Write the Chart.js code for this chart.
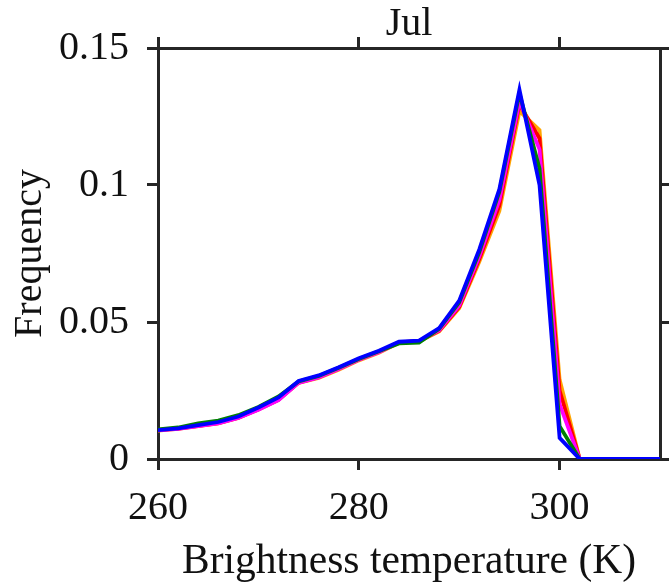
<!DOCTYPE html>
<html lang="en">
<head>
    <meta charset="UTF-8">
    <title>Jul - Brightness temperature</title>
    <script src="https://cdn.jsdelivr.net/npm/chart.js"></script>
    <style>
        body { margin: 0; background: #fff; }
        canvas { display: block; }
    </style>
</head>
<body>
    <canvas id="btChart" width="669" height="584"></canvas>

    <script>
        // Brightness temperature bins (K)
        const temps = [260, 262, 264, 266, 268, 270, 272, 274, 276, 278, 280, 282, 284,
                       286, 288, 290, 292, 294, 296, 298, 300, 302, 304, 306, 308, 310];

        // Frequency per bin, one array per curve
        const blueVals    = [0.0105, 0.0112, 0.0124, 0.0135, 0.0155, 0.0188, 0.0225, 0.0285, 0.0305, 0.0335, 0.0368, 0.0395, 0.0428,
                             0.0432, 0.0478, 0.0578, 0.0765, 0.0985, 0.1348, 0.1000, 0.0077, 0, 0, 0, 0, 0];
        const greenVals   = [0.0108, 0.0115, 0.0130, 0.0140, 0.0160, 0.0190, 0.0228, 0.0283, 0.0303, 0.0333, 0.0365, 0.0393, 0.0422,
                             0.0425, 0.0475, 0.0572, 0.0755, 0.0975, 0.1335, 0.1060, 0.0120, 0, 0, 0, 0, 0];
        const magentaVals = [0.0105, 0.0110, 0.0120, 0.0130, 0.0150, 0.0180, 0.0215, 0.0278, 0.0298, 0.0328, 0.0362, 0.0390, 0.0425,
                             0.0430, 0.0470, 0.0560, 0.0740, 0.0945, 0.1305, 0.1130, 0.0200, 0, 0, 0, 0, 0];
        const redVals     = [0.0106, 0.0111, 0.0121, 0.0131, 0.0151, 0.0181, 0.0216, 0.0279, 0.0299, 0.0329, 0.0363, 0.0391, 0.0426,
                             0.0431, 0.0468, 0.0555, 0.0730, 0.0925, 0.1295, 0.1170, 0.0250, 0, 0, 0, 0, 0];
        const orangeVals  = [0.0104, 0.0110, 0.0120, 0.0130, 0.0150, 0.0182, 0.0218, 0.0278, 0.0296, 0.0326, 0.0360, 0.0388, 0.0424,
                             0.0429, 0.0465, 0.0550, 0.0720, 0.0905, 0.1270, 0.1200, 0.0290, 0, 0, 0, 0, 0];

        // Tick values
        const xTicks = [260, 280, 300];
        const yTicks = [0, 0.05, 0.1, 0.15];

        const axisColor = '#262626';
        const serif = 'Liberation Serif, Times New Roman, serif';

        function toPoints(vals) {
            return vals.map((v, i) => ({ x: temps[i], y: v }));
        }

        function curve(vals, color) {
            return {
                data: toPoints(vals),
                borderColor: color,
                borderWidth: 3.8,
                pointRadius: 0,
                tension: 0,
                fill: false
            };
        }

        function fixedTicks(values) {
            return function (scale) {
                scale.ticks = values.map(v => ({ value: v }));
            };
        }

        function fixedSize(prop, size) {
            return function (scale) {
                scale[prop] = size;
            };
        }

        const grid = {
            drawOnChartArea: false,
            drawTicks: true,
            tickLength: 11,
            color: axisColor,
            lineWidth: 3
        };
        const border = { display: true, color: axisColor, width: 3 };

        const ctx = document.getElementById('btChart').getContext('2d');
        new Chart(ctx, {
            type: 'line',
            data: {
                // first dataset ends up on top
                datasets: [
                    curve(blueVals, '#0000ff'),
                    curve(greenVals, '#008000'),
                    curve(magentaVals, '#ff00ff'),
                    curve(redVals, '#ff0000'),
                    curve(orangeVals, '#ffa500')
                ]
            },
            options: {
                responsive: false,
                animation: false,
                layout: { padding: 0 },
                plugins: {
                    legend: { display: false },
                    tooltip: { enabled: false }
                },
                scales: {
                    x: {
                        type: 'linear',
                        position: 'bottom',
                        min: 260,
                        max: 310,
                        afterBuildTicks: fixedTicks(xTicks),
                        afterFit: fixedSize('height', 125),
                        grid: grid,
                        border: border,
                        ticks: {
                            padding: 14,
                            maxRotation: 0,
                            color: '#111',
                            font: { family: serif, size: 40 }
                        },
                        title: {
                            display: true,
                            text: 'Brightness temperature (K)',
                            color: '#111',
                            font: { family: serif, size: 41.5, lineHeight: 1 },
                            padding: { top: 0, bottom: 1 }
                        }
                    },
                    x2: {
                        type: 'linear',
                        position: 'top',
                        min: 260,
                        max: 310,
                        afterBuildTicks: fixedTicks(xTicks),
                        afterFit: fixedSize('height', 48),
                        grid: grid,
                        border: border,
                        ticks: { display: false },
                        title: {
                            display: true,
                            text: 'Jul',
                            color: '#111',
                            font: { family: serif, size: 40, lineHeight: 1 },
                            padding: { top: 4, bottom: 0 }
                        }
                    },
                    y: {
                        type: 'linear',
                        position: 'left',
                        min: 0,
                        max: 0.15,
                        afterBuildTicks: fixedTicks(yTicks),
                        afterFit: fixedSize('width', 158),
                        grid: grid,
                        border: border,
                        ticks: {
                            padding: 18,
                            color: '#111',
                            font: { family: serif, size: 40 },
                            callback: v => String(v)
                        },
                        title: {
                            display: true,
                            text: 'Frequency',
                            color: '#111',
                            font: { family: serif, size: 40, lineHeight: 1 },
                            padding: { top: 10, bottom: 0 }
                        }
                    },
                    y2: {
                        type: 'linear',
                        position: 'right',
                        min: 0,
                        max: 0.15,
                        afterBuildTicks: fixedTicks(yTicks),
                        afterFit: fixedSize('width', 9),
                        grid: grid,
                        border: border,
                        ticks: { display: false }
                    }
                }
            }
        });
    </script>
</body>
</html>
